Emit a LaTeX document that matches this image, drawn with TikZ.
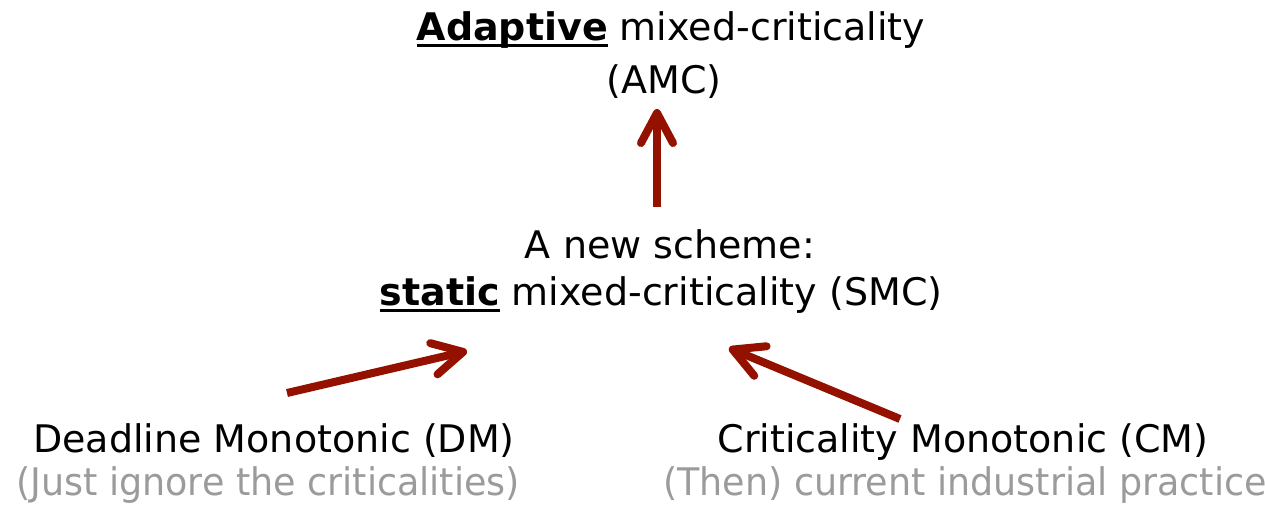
\documentclass[tikz,border=0pt]{standalone}
\usepackage{fontspec}
\setmainfont{DejaVu Sans}
\newfontfamily\notefont[FakeStretch=0.96]{DejaVu Sans}
\usetikzlibrary{arrows.meta}
\definecolor{arrowred}{RGB}{148,17,0}
\definecolor{notegray}{RGB}{155,155,155}
\newcommand\myul[1]{\setbox0\hbox{#1}\rlap{\rule[-7pt]{\wd0}{3pt}}\box0\relax}
\tikzset{
  lbl/.style={anchor=base, inner sep=0pt, font=\fontsize{38}{45}\selectfont, text=black},
  note/.style={anchor=base, inner sep=0pt, font=\notefont\fontsize{38}{45}\selectfont, text=notegray},
  arr/.style={draw=arrowred, line width=8pt,
    -{Straight Barb[length=30pt, width=32pt, round]}},
}
\begin{document}
\begin{tikzpicture}[x=1pt, y=-1pt]
\useasboundingbox (0,0) rectangle (1265,509);
\node[lbl] (t1) at (671,40) {\myul{\textbf{Adaptive}} mixed-criticality};
\node[lbl] (t2) at (664,93) {(AMC)};
\node[lbl] (s1) at (670,258) {A new scheme:};
\node[lbl] (s2) at (661,305) {\myul{\textbf{static}} mixed-criticality (SMC)};
\node[lbl] (dm1) at (274,452) {Deadline Monotonic (DM)};
\node[note] (dm2) at (268,495) {(Just ignore the criticalities)};
\node[lbl] (cm1) at (963,452) {Criticality Monotonic (CM)};
\node[note] (cm2) at (965,495) {(Then) current industrial practice};
\coordinate (upTail) at (657,207);
\coordinate (upTip) at (657,109);
\coordinate (dmTail) at (287,393);
\coordinate (dmTip) at (467,351);
\coordinate (cmTail) at (900,419);
\coordinate (cmTip) at (729,348);
\draw[arr] (upTail) -- (upTip);
\draw[arr] (dmTail) -- (dmTip);
\draw[arr] (cmTail) -- (cmTip);
\end{tikzpicture}
\end{document}
